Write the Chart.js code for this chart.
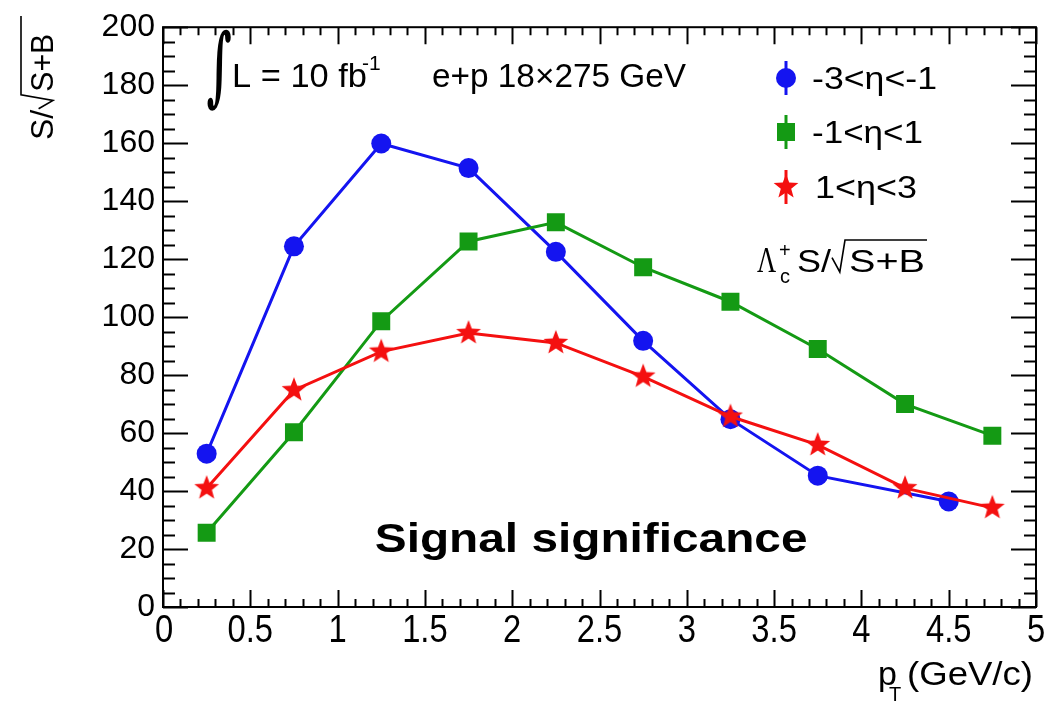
<!DOCTYPE html>
<html>
<head>
<meta charset="utf-8">
<script src="https://cdn.jsdelivr.net/npm/chart.js@4.4.1/dist/chart.umd.min.js"></script>
<style>
  html, body { margin: 0; padding: 0; background: #fff; }
  canvas { display: block; }
</style>
</head>
<body>
<canvas id="myChart" width="1052" height="716"></canvas>
<script>
// pT bin centres
const ptBlue = [0.25, 0.75, 1.25, 1.75, 2.25, 2.75, 3.25, 3.75, 4.5];
const ptGreen = [0.25, 0.75, 1.25, 1.75, 2.25, 2.75, 3.25, 3.75, 4.25, 4.75];
const ptRed = [0.25, 0.75, 1.25, 1.75, 2.25, 2.75, 3.25, 3.75, 4.25, 4.75];

// S/sqrt(S+B) values
const sigBlue = [52.9, 124.4, 159.9, 151.4, 122.5, 91.8, 64.8, 45.3, 36.4];
const sigGreen = [25.6, 60.3, 98.6, 126.1, 132.7, 117.2, 105.3, 89.0, 70.0, 59.1];
const sigRed = [41.0, 74.8, 88.1, 94.5, 91.1, 79.5, 65.7, 55.9, 41.0, 34.2];

const legendLabels = ["-3<η<-1", "-1<η<1", "1<η<3"];
const colores = ["#1414f0", "#149a14", "#f41010"];

const SANS = "'Liberation Sans', Arial, Helvetica, sans-serif";

// filled 5 point star for the red series
function makeStar(color, R) {
  const c = document.createElement("canvas");
  const s = Math.ceil(R * 2 + 4);
  c.width = s;
  c.height = s;
  const g = c.getContext("2d");
  g.fillStyle = color;
  g.beginPath();
  for (let i = 0; i < 10; i++) {
    const r = i % 2 === 0 ? R : R * 0.42;
    const a = -Math.PI / 2 + (i * Math.PI) / 5;
    g.lineTo(s / 2 + r * Math.cos(a), s / 2 + r * Math.sin(a));
  }
  g.closePath();
  g.fill();
  return c;
}
const star = makeStar(colores[2], 13);

function toXY(xs, ys) {
  return xs.map((x, i) => ({ x: x, y: ys[i] }));
}

// text helpers
function txt(ctx, s, font, x, y, w, align) {
  ctx.save();
  ctx.font = font;
  ctx.textAlign = "left";
  ctx.textBaseline = "alphabetic";
  const m = ctx.measureText(s).width;
  const sx = w ? w / m : 1;
  ctx.translate(align === "center" ? x - (m * sx) / 2 : x, y);
  ctx.scale(sx, 1);
  ctx.fillText(s, 0, 0);
  ctx.restore();
  return m * sx;
}
function fitBox(ctx, s, font, x0, y0, x1, y1) {
  ctx.save();
  ctx.font = font;
  ctx.textAlign = "left";
  ctx.textBaseline = "alphabetic";
  const m = ctx.measureText(s);
  const w = m.actualBoundingBoxLeft + m.actualBoundingBoxRight;
  const h = m.actualBoundingBoxAscent + m.actualBoundingBoxDescent;
  const sx = (x1 - x0) / w;
  const sy = (y1 - y0) / h;
  ctx.translate(x0 + m.actualBoundingBoxLeft * sx, y0 + m.actualBoundingBoxAscent * sy);
  ctx.scale(sx, sy);
  ctx.fillText(s, 0, 0);
  ctx.restore();
}
// radical sign + overline, local coords (baseline at y=0)
function radical(ctx, u0, u1, u2, h, lw) {
  ctx.save();
  ctx.lineWidth = lw;
  ctx.beginPath();
  ctx.moveTo(u0, -h * 0.45);
  ctx.lineTo(u0 + (u1 - u0) * 0.6, 0);
  ctx.lineTo(u1, -h);
  ctx.lineTo(u2, -h);
  ctx.stroke();
  ctx.restore();
}

const rootFrame = {
  id: "rootFrame",
  afterDraw(chart) {
    const ctx = chart.ctx;
    const a = chart.chartArea;
    const xs = chart.scales.x;
    const ys = chart.scales.y;
    ctx.save();
    ctx.strokeStyle = "#000";
    ctx.fillStyle = "#000";
    ctx.lineWidth = 2;
    ctx.strokeRect(a.left, a.top, a.right - a.left, a.bottom - a.top);

    // inward ticks, all four sides
    ctx.beginPath();
    for (let v = 0; v <= 200.001; v += 5) {
      const py = Math.round(ys.getPixelForValue(v)) + 0.5;
      const len = v % 20 === 0 ? 25 : 12;
      ctx.moveTo(a.left, py);
      ctx.lineTo(a.left + len, py);
      ctx.moveTo(a.right, py);
      ctx.lineTo(a.right - len, py);
    }
    for (let k = 0; k <= 50; k++) {
      const px = Math.round(xs.getPixelForValue(k / 10)) + 0.5;
      const len = k % 5 === 0 ? 17 : 8;
      ctx.moveTo(px, a.bottom);
      ctx.lineTo(px, a.bottom - len);
      ctx.moveTo(px, a.top);
      ctx.lineTo(px, a.top + len);
    }
    ctx.stroke();

    // x tick labels (narrow, ROOT style) from the scale's own ticks
    xs.ticks.forEach((t) => {
      const s = String(t.value);
      const px = xs.getPixelForValue(t.value);
      ctx.save();
      ctx.font = "39px " + SANS;
      const m = ctx.measureText(s).width;
      ctx.restore();
      txt(ctx, s, "39px " + SANS, px + (t.value === 0 ? 1 : 0), 642, m * 0.84, "center");
    });

    // y title  S/sqrt(S+B)
    ctx.save();
    ctx.translate(53, 140);
    ctx.rotate(-Math.PI / 2);
    const f1 = "32px " + SANS;
    const w1 = txt(ctx, "S/", f1, 0, 0);
    radical(ctx, w1 + 1, w1 + 15, 124, 32, 1.6);
    txt(ctx, "S+B", f1, w1 + 18, 0, 58);
    ctx.restore();

    // integral luminosity
    fitBox(ctx, "∫", "bold 80px 'DejaVu Serif', serif", 207, 29, 231, 111);
    txt(ctx, "L = 10 fb", "34px " + SANS, 232, 87, 135);
    txt(ctx, "-1", "21px " + SANS, 362, 70);
    txt(ctx, "e+p 18×275 GeV", "33px " + SANS, 432, 87, 254);

    // legend
    const ly = [78, 132, 187];
    const lw = [125, 111, 102];
    for (let i = 0; i < 3; i++) {
      const cx = 786;
      ctx.save();
      ctx.strokeStyle = colores[i];
      ctx.fillStyle = colores[i];
      ctx.lineWidth = 3;
      ctx.beginPath();
      ctx.moveTo(cx, ly[i] - 17);
      ctx.lineTo(cx, ly[i] + 17);
      ctx.stroke();
      if (i === 0) {
        ctx.beginPath();
        ctx.arc(cx, ly[i], 10, 0, Math.PI * 2);
        ctx.fill();
      } else if (i === 1) {
        ctx.fillRect(cx - 9, ly[i] - 9, 18, 18);
      } else {
        ctx.drawImage(star, cx - star.width / 2, ly[i] - star.height / 2);
      }
      ctx.restore();
      txt(ctx, legendLabels[i], "32px " + SANS, i === 2 ? 815 : 812, ly[i] + 11, lw[i]);
    }

    // Lambda_c+ S/sqrt(S+B)
    fitBox(ctx, "Λ", "32px 'Liberation Serif', 'Times New Roman', serif", 757, 249, 776, 272);
    txt(ctx, "+", "20px " + SANS, 779, 257);
    txt(ctx, "c", "20px " + SANS, 780, 283);
    const w2 = txt(ctx, "S/", "32px " + SANS, 797, 272, 34);
    ctx.save();
    ctx.translate(0, 272);
    radical(ctx, 797 + w2 + 1, 845, 927, 32, 1.6);
    ctx.restore();
    txt(ctx, "S+B", "32px " + SANS, 849, 272, 76);

    // big label
    fitBox(ctx, "Signal significance", "bold 40px " + SANS, 376, 522, 806, 560);

    // x title
    txt(ctx, "p", "34px " + SANS, 878, 685);
    txt(ctx, "T", "20px " + SANS, 889, 701);
    txt(ctx, "(GeV/c)", "34px " + SANS, 907, 685, 126);

    ctx.restore();
  },
};

const ctx = document.querySelector("#myChart").getContext("2d");

const myChart = new Chart(ctx, {
  type: "scatter",
  data: {
    datasets: [
      {
        label: legendLabels[0],
        data: toXY(ptBlue, sigBlue),
        showLine: true,
        borderColor: colores[0],
        backgroundColor: colores[0],
        borderWidth: 3,
        pointStyle: "circle",
        pointRadius: 10,
        pointBorderWidth: 0,
        order: 2,
      },
      {
        label: legendLabels[1],
        data: toXY(ptGreen, sigGreen),
        showLine: true,
        borderColor: colores[1],
        backgroundColor: colores[1],
        borderWidth: 3,
        pointStyle: "rect",
        pointRadius: 12.7,
        pointBorderWidth: 0,
        order: 1,
      },
      {
        label: legendLabels[2],
        data: toXY(ptRed, sigRed),
        showLine: true,
        borderColor: colores[2],
        backgroundColor: colores[2],
        borderWidth: 3,
        pointStyle: star,
        pointRadius: 13,
        order: 0,
      },
    ],
  },
  options: {
    responsive: false,
    animation: false,
    devicePixelRatio: 1,
    layout: { padding: { left: 0, right: 15, top: 19, bottom: 0 } },
    plugins: {
      legend: { display: false },
      tooltip: { enabled: false },
    },
    scales: {
      x: {
        type: "linear",
        min: 0,
        max: 5,
        border: { display: false },
        grid: { display: false, drawTicks: false },
        ticks: {
          display: false,
          stepSize: 0.5,
          autoSkip: false,
        },
        afterFit(scale) {
          scale.height = 109;
        },
      },
      y: {
        min: 0,
        max: 200,
        border: { display: false },
        grid: { display: false, drawTicks: false },
        ticks: {
          stepSize: 20,
          padding: 8,
          color: "#000",
          font: { family: SANS, size: 32 },
        },
        afterFit(scale) {
          scale.width = 163;
        },
      },
    },
  },
  plugins: [rootFrame],
});
</script>
</body>
</html>
